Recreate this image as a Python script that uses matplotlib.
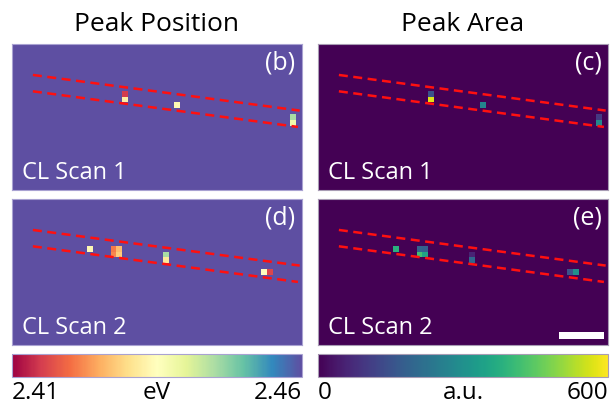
import numpy as np
import matplotlib
matplotlib.use('Agg')
import matplotlib.pyplot as plt
from matplotlib.patches import Rectangle

plt.rcParams['font.family'] = ['Open Sans', 'DejaVu Sans']

# ---------------- data ----------------
n_rows, n_cols = 25, 50
pos_background = 2.46
area_background = 0.0
pos_min, pos_max = 2.41, 2.46
area_min, area_max = 0, 600

scan1_rows = [8, 9, 10, 12, 13]
scan1_cols = [19, 19, 28, 48, 48]
scan1_position = [2.415, 2.4325, 2.434, 2.445, 2.4375]
scan1_area = [150, 570, 270, 100, 280]

scan2_rows = [8, 8, 9, 8, 9, 9, 10, 12, 12]
scan2_cols = [13, 17, 17, 18, 18, 26, 26, 43, 44]
scan2_position = [2.434, 2.421, 2.422, 2.4265, 2.428, 2.445, 2.4315, 2.435, 2.416]
scan2_area = [380, 190, 420, 180, 350, 60, 200, 150, 300]

upper_line_x = [3.6, 49.6]
upper_line_y = [5.3, 11.4]
lower_line_x = [3.6, 49.3]
lower_line_y = [8.1, 14.2]

column_titles = ['Peak Position', 'Peak Area']
panel_labels = [['(b)', '(c)'], ['(d)', '(e)']]
scan_labels = ['CL Scan 1', 'CL Scan 2']
pos_tick_labels = ['2.41', 'eV', '2.46']
area_tick_labels = ['0', 'a.u.', '600']
scale_bar_x, scale_bar_len = 41.6, 7.7


def make_grid(rows, cols, vals, bg):
    g = np.full((n_rows, n_cols), bg, dtype=float)
    for r, c, v in zip(rows, cols, vals):
        g[r, c] = v
    return g


grids = [
    [make_grid(scan1_rows, scan1_cols, scan1_position, pos_background),
     make_grid(scan1_rows, scan1_cols, scan1_area, area_background)],
    [make_grid(scan2_rows, scan2_cols, scan2_position, pos_background),
     make_grid(scan2_rows, scan2_cols, scan2_area, area_background)],
]

W, H = 611, 406
fig = plt.figure(figsize=(W / 100, H / 100), dpi=100)


def fax(x0, y0, x1, y1):
    return fig.add_axes([x0 / W, 1 - y1 / H, (x1 - x0) / W, (y1 - y0) / H])


col_x = [(12, 302), (318, 608)]
row_y = [(45, 191), (200, 346)]
cmaps = ['Spectral', 'viridis']
norms = [(pos_min, pos_max), (area_min, area_max)]
spine_cols = ['#a9a2d2', '#a89cb4']

mappables = [None, None]
for i in range(2):
    for j in range(2):
        ax = fax(col_x[j][0], row_y[i][0], col_x[j][1], row_y[i][1])
        im = ax.imshow(grids[i][j], cmap=cmaps[j], vmin=norms[j][0], vmax=norms[j][1],
                       extent=(0, n_cols, n_rows, 0), aspect='auto',
                       interpolation='nearest')
        mappables[j] = im
        ax.plot(upper_line_x, upper_line_y, color='#ff1010', lw=1.8, dashes=(3.6, 2.2))
        ax.plot(lower_line_x, lower_line_y, color='#ff1010', lw=1.8, dashes=(3.6, 2.2))
        ax.set_xlim(0, n_cols)
        ax.set_ylim(n_rows, 0)
        ax.set_xticks([])
        ax.set_yticks([])
        for s in ax.spines.values():
            s.set_color(spine_cols[j])
            s.set_linewidth(0.8)
        ax.text(0.978, 0.96, panel_labels[i][j], transform=ax.transAxes,
                ha='right', va='top', color='white', fontsize=18)
        ax.text(0.033, 0.085, scan_labels[i], transform=ax.transAxes,
                ha='left', va='baseline', color='white', fontsize=17)
        if i == 1 and j == 1:
            ax.add_patch(Rectangle((scale_bar_x, 22.8), scale_bar_len, 1.2,
                                   color='white', lw=0))

# colorbars
for j in range(2):
    cax = fax(col_x[j][0], 355, col_x[j][1], 378)
    cb = fig.colorbar(mappables[j], cax=cax, orientation='horizontal')
    cb.set_ticks([])
    cb.outline.set_edgecolor(spine_cols[j])
    cb.outline.set_linewidth(0.8)

# colorbar labels
tl = [pos_tick_labels, area_tick_labels]
for j in range(2):
    x0, x1 = col_x[j]
    yb = 1 - 399 / H
    fig.text(x0 / W, yb, tl[j][0], ha='left', va='baseline', fontsize=17.5)
    fig.text((x0 + x1) / 2 / W, yb, tl[j][1], ha='center', va='baseline', fontsize=17.5)
    fig.text(x1 / W, yb, tl[j][2], ha='right', va='baseline', fontsize=17.5)
    fig.text((x0 + x1) / 2 / W, 1 - 31 / H, column_titles[j], ha='center',
             va='baseline', fontsize=19)

fig.savefig('out.png', dpi=100)
